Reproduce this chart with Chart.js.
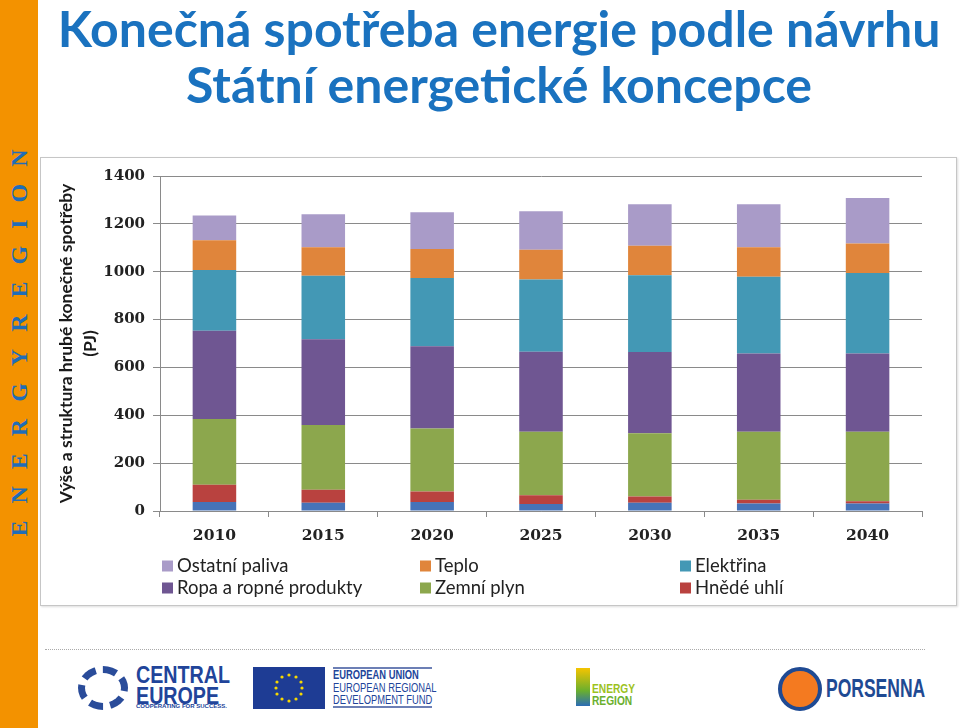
<!DOCTYPE html>
<html><head><meta charset="utf-8">
<script src="https://cdn.jsdelivr.net/npm/chart.js@4"></script>
<style>
body{margin:0;width:960px;height:728px;position:relative;background:#fff;overflow:hidden;font-family:Lato,sans-serif}
#side{position:absolute;left:0;top:0;width:38px;height:728px;background:#F39200}
#sidetext{position:absolute;left:19px;top:343px;transform:translate(-50%,-50%) rotate(-90deg);white-space:nowrap;font-family:'Liberation Serif',serif;font-weight:bold;font-size:24px;letter-spacing:17px;padding-left:17px;color:#1F6DB8}
#title{position:absolute;left:38px;width:922px;top:0px;text-align:center;color:#1A72BF;font-weight:bold;font-size:50px;line-height:56px;white-space:nowrap}
#box{position:absolute;left:40px;top:157px;width:915px;height:447px;border:1px solid #C6C6C6;box-shadow:1px 1px 2px #ddd}
#box canvas{position:absolute;left:0;top:0}
#dots{position:absolute;left:45px;top:649px;width:880px;border-top:1px dotted #AAA}
.l{position:absolute;white-space:nowrap;transform-origin:0 0}
</style></head><body>
<div id="side"><div id="sidetext">ENERGYREGION</div></div>
<div id="title">Konečná spotřeba energie podle návrhu<br>Státní energetické koncepce</div>
<div id="box"><canvas id="c" width="915" height="447"></canvas></div>
<div id="dots"></div>
<!-- logos -->
<div class="l" style="left:78px;top:666px;width:50px;height:44px;border-radius:50%;border:7px dashed #2A4C9A;box-sizing:border-box"></div>
<div class="l" style="left:136px;top:664px;font-family:'Liberation Sans';font-weight:bold;font-size:24px;line-height:21px;color:#21449A;transform:scaleX(0.82)">CENTRAL<br>EUROPE</div>
<div class="l" style="left:136px;top:703px;font-family:'Liberation Sans';font-weight:bold;font-size:6px;color:#21449A">COOPERATING FOR SUCCESS.</div>
<svg class="l" style="left:253px;top:667px" width="72" height="42"><rect width="72" height="42" fill="#1E3C94"/>
<g fill="#F7D800"><circle cx="36" cy="8" r="1.6"/><circle cx="43" cy="10" r="1.6"/><circle cx="48" cy="15" r="1.6"/><circle cx="49" cy="21" r="1.6"/><circle cx="48" cy="27" r="1.6"/><circle cx="43" cy="32" r="1.6"/><circle cx="36" cy="34" r="1.6"/><circle cx="29" cy="32" r="1.6"/><circle cx="24" cy="27" r="1.6"/><circle cx="23" cy="21" r="1.6"/><circle cx="24" cy="15" r="1.6"/><circle cx="29" cy="10" r="1.6"/></g></svg>
<div class="l" style="left:333px;top:667px;width:99px;height:41px;border-top:2px solid #6C7FB5;border-bottom:2px solid #6C7FB5;box-sizing:border-box"></div>
<div class="l" style="left:333px;top:669px;font-family:'Liberation Sans';font-size:12px;line-height:12.5px;color:#21449A;transform:scaleX(0.78)"><b>EUROPEAN UNION</b><br>EUROPEAN REGIONAL<br>DEVELOPMENT FUND</div>
<div class="l" style="left:576px;top:668px;width:14px;height:38px;background:linear-gradient(#F5C400,#6AAF2E 60%,#2B6CB5)"></div>
<div class="l" style="left:592px;top:683px;font-family:'Liberation Sans';font-weight:bold;font-size:12px;line-height:12px;color:#9CC21D;transform:scaleX(0.85)">ENERGY<br><span style="color:#6AAF2E">REGION</span></div>
<div class="l" style="left:778px;top:667px;width:44px;height:44px;border-radius:50%;background:#F47A20;border:4px solid #1F4A93;box-sizing:border-box"></div>
<div class="l" style="left:826px;top:674px;font-family:'Liberation Sans';font-weight:bold;font-size:25px;line-height:28px;color:#1F4A93;transform:scaleX(0.7)">PORSENNA</div>
<script>
const years = ['2010','2015','2020','2025','2030','2035','2040'];
const cerneUhli = [38,35,38,29,34,31,31];
const hnedeUhli = [72,54,44,37,27,16,10];
const zemniPlyn = [274,270,263,265,264,284,290];
const ropa = [369,359,344,335,339,327,327];
const elektrina = [254,265,285,301,321,321,337];
const teplo = [125,119,121,125,123,123,123];
const ostatniPaliva = [103,138,154,161,174,180,190];
const yTicks = [0,200,400,600,800,1000,1200,1400];

const series = [
  {label:'Černé uhlí', data:cerneUhli, color:'#4673B8', legend:false},
  {label:'Hnědé uhlí', data:hnedeUhli, color:'#B9423F', legend:true},
  {label:'Zemní plyn', data:zemniPlyn, color:'#8CA74D', legend:true},
  {label:'Ropa a ropné produkty', data:ropa, color:'#6F5692', legend:true},
  {label:'Elektřina', data:elektrina, color:'#4398B5', legend:true},
  {label:'Teplo', data:teplo, color:'#E0853B', legend:true},
  {label:'Ostatní paliva', data:ostatniPaliva, color:'#A99BC8', legend:true}
];

const legendPlugin = {
  id:'gridLegend',
  afterDraw(chart){
    const ctx = chart.ctx;
    const items = chart.data.datasets.filter(d=>d.showInLegend).slice().reverse();
    const colX = [121,379,639], rowY = [408,430];
    ctx.save();
    ctx.font = '18.5px Lato';
    ctx.textBaseline = 'middle';
    items.forEach((d,i)=>{
      const x = colX[i%3], y = rowY[Math.floor(i/3)];
      ctx.fillStyle = d.backgroundColor;
      ctx.fillRect(x, y-5.5, 11, 11);
      ctx.fillStyle = '#222';
      ctx.fillText(d.label, x+15, y);
    });
    ctx.restore();
  }
};

new Chart(document.getElementById('c'), {
  type:'bar',
  data:{
    labels:years,
    datasets:series.map(s=>({label:s.label,data:s.data,backgroundColor:s.color,showInLegend:s.legend,
      categoryPercentage:1, barPercentage:0.4, borderWidth:0}))
  },
  options:{
    responsive:false, animation:false,
    layout:{padding:{top:18,right:34,left:0,bottom:0}},
    plugins:{legend:{display:false},tooltip:{enabled:false}},
    scales:{
      x:{stacked:true,
        afterFit:s=>{s.height=94;},
        grid:{display:true,drawOnChartArea:false,offset:true,tickLength:6,color:'#8a8a8a'},
        border:{display:true,color:'#8a8a8a'},
        ticks:{font:{family:'DejaVu Serif',weight:'bold',size:15.5},color:'#222',padding:10}},
      y:{stacked:true,min:0,max:1400,
        afterFit:s=>{s.width=119;},
        afterBuildTicks:s=>{s.ticks=yTicks.map(v=>({value:v}));},
        grid:{color:'#8a8a8a',tickLength:7},
        border:{display:true,color:'#8a8a8a'},
        ticks:{font:{family:'DejaVu Serif',weight:'bold',size:15},color:'#222',padding:8,
          callback:v=>String(v)},
        title:{display:true,text:['Výše a struktura hrubé konečné spotřeby','(PJ)'],
          font:{family:'Lato',weight:'bold',size:17.5,lineHeight:1.4},color:'#1a1a1a',padding:{top:13,bottom:0}}}
    }
  },
  plugins:[legendPlugin]
});
</script>
</body></html>
